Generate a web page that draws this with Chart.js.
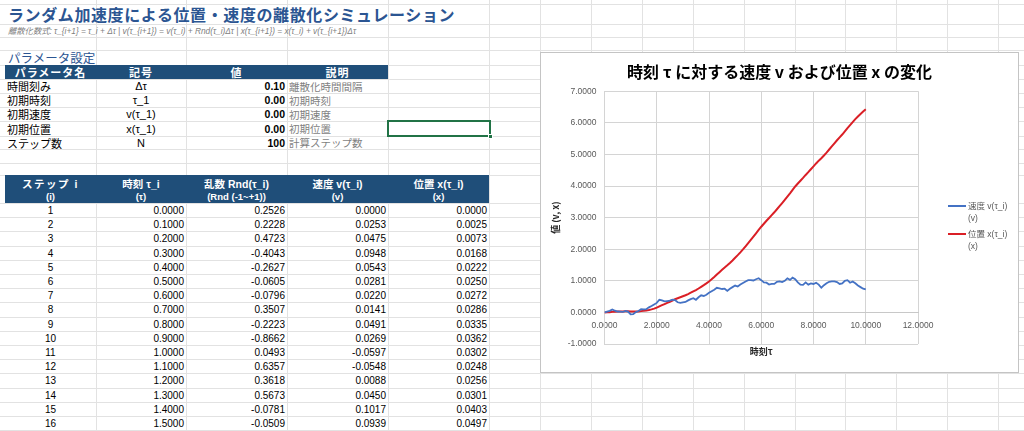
<!DOCTYPE html>
<html>
<head>
<meta charset="utf-8">
<script src="https://cdn.jsdelivr.net/npm/chart.js@4.4.1/dist/chart.umd.min.js"></script>
<style>
html,body{margin:0;padding:0;width:1024px;height:431px;overflow:hidden;background:#fff;font-family:"Liberation Sans","Noto Sans CJK JP",sans-serif;}
#sheet{position:absolute;left:0;top:0;width:1024px;height:431px;}
.hl{position:absolute;left:0;width:1024px;height:1px;background:#e2e2e2;}
.vl{position:absolute;top:0;height:431px;width:1px;background:#e2e2e2;}
.c{position:absolute;white-space:nowrap;font-size:11px;color:#000;display:flex;align-items:center;box-sizing:border-box;}
.n{font-size:10px;}
.bar{position:absolute;background:#1F4E79;}
.hd{color:#fff;font-weight:bold;}
#title{position:absolute;left:8px;top:3px;font-size:16px;font-weight:bold;color:#2B5592;letter-spacing:0.6px;white-space:nowrap;font-family:"Noto Sans CJK JP",sans-serif;line-height:22px;}
#formula{position:absolute;left:8px;top:25px;font-size:8.3px;font-style:italic;color:#808080;white-space:nowrap;line-height:13px;}
#ptitle{position:absolute;left:8px;top:50px;font-size:12.5px;color:#2B5592;white-space:nowrap;line-height:15px;font-family:"Noto Sans CJK JP",sans-serif;}
#sel{position:absolute;left:387px;top:120px;width:104px;height:17px;border:2px solid #217346;box-sizing:border-box;}
#selh{position:absolute;left:488px;top:134px;width:5px;height:5px;background:#217346;border:1px solid #fff;box-sizing:border-box;}
#chartbox{position:absolute;left:540px;top:52px;width:479px;height:321px;border:1px solid #c4c4c4;box-sizing:border-box;background:#fff;}
#chartbox canvas{position:absolute;left:0;top:0;}
.lg{position:absolute;font-size:8.5px;color:#595959;line-height:12px;white-space:nowrap;}
.lgl{position:absolute;height:2px;width:18px;}
</style>
</head>
<body>
<div id="sheet"></div>
<div id="title">ランダム加速度による位置・速度の離散化シミュレーション</div>
<div id="formula">離散化数式: τ_{i+1} = τ_i + Δτ | v(τ_{i+1}) = v(τ_i) + Rnd(τ_i)Δτ | x(τ_{i+1}) = x(τ_i) + v(τ_{i+1})Δτ</div>
<div id="ptitle">パラメータ設定</div>
<div id="chartbox">
  <canvas id="cv" width="477" height="319"></canvas>
  <div class="lgl" style="left:407px;top:152px;background:#4472C4"></div>
  <div class="lg" style="left:427px;top:147px">速度 v(τ_i)<br>(v)</div>
  <div class="lgl" style="left:407px;top:180px;background:#DA1F26"></div>
  <div class="lg" style="left:427px;top:175px">位置 x(τ_i)<br>(x)</div>
</div>
<script>
// ===== DATA =====
const paramNames = ["時間刻み","初期時刻","初期速度","初期位置","ステップ数"];
const paramSymbols = ["Δτ","τ_1","v(τ_1)","x(τ_1)","N"];
const paramValues = ["0.10","0.00","0.00","0.00","100"];
const paramDesc = ["離散化時間間隔","初期時刻","初期速度","初期位置","計算ステップ数"];

const tableHeaders1 = ["ステップ i","時刻 τ_i","乱数 Rnd(τ_i)","速度 v(τ_i)","位置 x(τ_i)"];
const tableHeaders2 = ["(i)","(τ)","(Rnd (-1~+1))","(v)","(x)"];

const steps = [1,2,3,4,5,6,7,8,9,10,11,12,13,14,15,16];
const rnd = [0.2526,0.2228,0.4723,-0.4043,-0.2627,-0.0605,-0.0796,0.3507,-0.2223,-0.8662,0.0493,0.6357,0.3618,0.5673,-0.0781,-0.0509];

const tau = [0.0,0.1,0.2,0.3,0.4,0.5,0.6,0.7,0.8,0.9,
1.0,1.1,1.2,1.3,1.4,1.5,1.6,1.7,1.8,1.9,
2.0,2.1,2.2,2.3,2.4,2.5,2.6,2.7,2.8,2.9,
3.0,3.1,3.2,3.3,3.4,3.5,3.6,3.7,3.8,3.9,
4.0,4.1,4.2,4.3,4.4,4.5,4.6,4.7,4.8,4.9,
5.0,5.1,5.2,5.3,5.4,5.5,5.6,5.7,5.8,5.9,
6.0,6.1,6.2,6.3,6.4,6.5,6.6,6.7,6.8,6.9,
7.0,7.1,7.2,7.3,7.4,7.5,7.6,7.7,7.8,7.9,
8.0,8.1,8.2,8.3,8.4,8.5,8.6,8.7,8.8,8.9,
9.0,9.1,9.2,9.3,9.4,9.5,9.6,9.7,9.8,9.9,
10.0];

const velocity = [0.0000,0.0253,0.0475,0.0948,0.0543,0.0281,0.0220,0.0141,0.0491,0.0269,
-0.0597,-0.0548,0.0088,0.0450,0.1017,0.0939,0.10,0.16,0.20,0.25,
0.30,0.40,0.38,0.35,0.36,0.37,0.40,0.39,0.32,0.30,
0.32,0.33,0.38,0.42,0.45,0.40,0.48,0.54,0.52,0.56,
0.62,0.67,0.72,0.78,0.76,0.74,0.75,0.68,0.75,0.80,
0.85,0.82,0.88,0.93,0.98,1.02,1.02,1.01,1.05,1.08,
1.02,0.95,0.94,0.88,0.90,0.90,0.97,0.98,0.96,1.00,
1.08,1.03,1.10,1.05,0.95,0.88,0.87,0.95,0.88,0.92,
0.90,0.94,0.88,0.78,0.86,0.92,0.97,0.98,0.98,0.96,
0.90,0.92,1.00,1.02,0.94,0.98,0.92,0.85,0.80,0.75,
0.73];

const position = [0.0000,0.0025,0.0073,0.0168,0.0222,0.0250,0.0272,0.0286,0.0335,0.0362,
0.0302,0.0248,0.0256,0.0301,0.0403,0.0497,0.0597,0.0757,0.0957,0.1207,
0.1507,0.1907,0.2287,0.2637,0.2997,0.3367,0.3767,0.4157,0.4477,0.4777,
0.5097,0.5427,0.5807,0.6227,0.6677,0.7077,0.7557,0.8097,0.8617,0.9177,
0.9797,1.0467,1.1187,1.1967,1.2727,1.3467,1.4217,1.4897,1.5647,1.6447,
1.7297,1.8117,1.8997,1.9927,2.0907,2.1927,2.2947,2.3957,2.5007,2.6087,
2.7107,2.8057,2.8997,2.9877,3.0777,3.1677,3.2647,3.3627,3.4587,3.5587,
3.6667,3.7697,3.8797,3.9847,4.0797,4.1677,4.2547,4.3497,4.4377,4.5297,
4.6197,4.7137,4.8017,4.8797,4.9657,5.0577,5.1547,5.2527,5.3507,5.4467,
5.5367,5.6287,5.7287,5.8307,5.9247,6.0227,6.1147,6.1997,6.2797,6.3547,
6.4277];

const chartTitle = "時刻 τ に対する速度 v および位置 x の変化";
const xAxisTitle = "時刻τ";
const yAxisTitle = "値 (v, x)";
const seriesNames = ["速度 v(τ_i) (v)","位置 x(τ_i) (x)"];

// ===== SHEET LAYOUT =====
const sheet = document.getElementById('sheet');
const rowLines = [4,24,37,50,65,79,93,107,121,136,149,163,175,203];
for (let i=1;i<=16;i++) rowLines.push(Math.round(203+i*14.2));
const colLines = [96,186,287,388,489,540,591,642,693,744,795,845,896,947,998];
rowLines.forEach(y=>{const d=document.createElement('div');d.className='hl';d.style.top=y+'px';sheet.appendChild(d);});
colLines.forEach(x=>{const d=document.createElement('div');d.className='vl';d.style.left=x+'px';sheet.appendChild(d);});

function bar(x1,x2,y1,y2){const d=document.createElement('div');d.className='bar';
  d.style.left=x1+'px';d.style.top=y1+'px';d.style.width=(x2-x1)+'px';d.style.height=(y2-y1)+'px';sheet.appendChild(d);}
function put(x1,x2,y1,y2,text,align,cls,extra){
  const d=document.createElement('div');d.className='c '+(cls||'');
  d.style.left=x1+'px';d.style.top=y1+'px';d.style.width=(x2-x1)+'px';d.style.height=(y2-y1)+'px';
  d.style.justifyContent = align==='c'?'center':(align==='r'?'flex-end':'flex-start');
  if(align==='r') d.style.paddingRight='2px';
  if(align==='l') d.style.paddingLeft='2px';
  if(extra) Object.assign(d.style,extra);
  d.textContent=text;sheet.appendChild(d);}

const pcols=[5,96,186,287,388];
bar(5,388,65,79);
["パラメータ名","記号","値","説明"].forEach((t,i)=>put(pcols[i],pcols[i+1],65,79,t,'c','hd',{letterSpacing:'1px'}));
const prow=[79,93,107,121,136,149];
paramNames.forEach((nm,i)=>{
  put(5,96,prow[i],prow[i+1],nm,'l');
  put(96,186,prow[i],prow[i+1],paramSymbols[i],'c');
  put(186,287,prow[i],prow[i+1],paramValues[i],'r','n',{fontWeight:'bold',fontSize:'10.5px'});
  put(287,388,prow[i],prow[i+1],paramDesc[i],'l','',{color:'#7f7f7f',fontSize:'10.5px'});
});

const dcols=[5,96,186,287,388,489];
bar(5,489,175,203);
tableHeaders1.forEach((t,i)=>put(dcols[i],dcols[i+1],176,190,t,'c','hd',{fontSize:'10.5px',letterSpacing:i===0?'1.5px':'0'}));
tableHeaders2.forEach((t,i)=>put(dcols[i],dcols[i+1],190,203,t,'c','hd',{fontSize:'9.5px'}));
steps.forEach((s,i)=>{
  const y1=Math.round(203+i*14.2), y2=Math.round(203+(i+1)*14.2);
  put(5,96,y1,y2,String(s),'c','n');
  put(96,186,y1,y2,tau[i].toFixed(4),'r','n');
  put(186,287,y1,y2,rnd[i].toFixed(4),'r','n');
  put(287,388,y1,y2,velocity[i].toFixed(4),'r','n');
  put(388,489,y1,y2,position[i].toFixed(4),'r','n');
});
const sel=document.createElement('div');sel.id='sel';sheet.appendChild(sel);
const selh=document.createElement('div');selh.id='selh';sheet.appendChild(selh);

// ===== CHART =====
const tickFont = {family:"'Liberation Sans', sans-serif", size:8.5};
const fmt4 = v => Number(v).toFixed(4);
new Chart(document.getElementById('cv'), {
  type:'line',
  data:{
    datasets:[
      {label:seriesNames[0], data:tau.map((t,i)=>({x:t,y:velocity[i]})), borderColor:'#4472C4', backgroundColor:'#4472C4', borderWidth:1.8, pointRadius:0, tension:0, fill:false},
      {label:seriesNames[1], data:tau.map((t,i)=>({x:t,y:position[i]})), borderColor:'#DA1F26', backgroundColor:'#DA1F26', borderWidth:2, pointRadius:0, tension:0, fill:false}
    ]
  },
  options:{
    responsive:false, animation:false,
    layout:{padding:{left:0,right:0,top:0,bottom:9.2}},
    plugins:{
      legend:{display:false},
      tooltip:{enabled:false},
      title:{display:true,text:chartTitle,color:'#000',font:{family:"'Noto Sans CJK JP', sans-serif",size:16,weight:'bold'},padding:{top:9,bottom:10}}
    },
    scales:{
      x:{type:'linear',min:0,max:12,position:{y:0},
         ticks:{stepSize:2,callback:fmt4,font:tickFont,color:'#595959',padding:8,maxRotation:0,autoSkip:false},
         grid:{color:'#d4d4d4',drawTicks:false},border:{color:'#c8c8c8'}},
      x2:{type:'linear',min:0,max:12,position:'bottom',
         ticks:{display:false},grid:{display:false,drawTicks:false},border:{display:false},
         title:{display:true,text:xAxisTitle,color:'#262626',font:{family:"'Noto Sans CJK JP', sans-serif",size:9,weight:'bold'},padding:{top:2,bottom:6}}},
      y:{type:'linear',min:-1,max:7,position:'left',
         ticks:{stepSize:1,callback:fmt4,font:tickFont,color:'#595959',padding:8},
         grid:{color:'#d4d4d4',drawTicks:false},border:{color:'#d4d4d4'},
         title:{display:true,text:yAxisTitle,color:'#262626',font:{family:"'Noto Sans CJK JP', sans-serif",size:9,weight:'bold'},padding:{top:9.6,bottom:2}},
         afterFit:(s)=>{s.width=63.5;}},
      yR:{type:'linear',min:-1,max:7,position:'right',
         ticks:{display:false},grid:{display:false,drawTicks:false},border:{display:false},
         afterFit:(s)=>{s.width=100;}}
    }
  }
});
</script>
</body>
</html>
